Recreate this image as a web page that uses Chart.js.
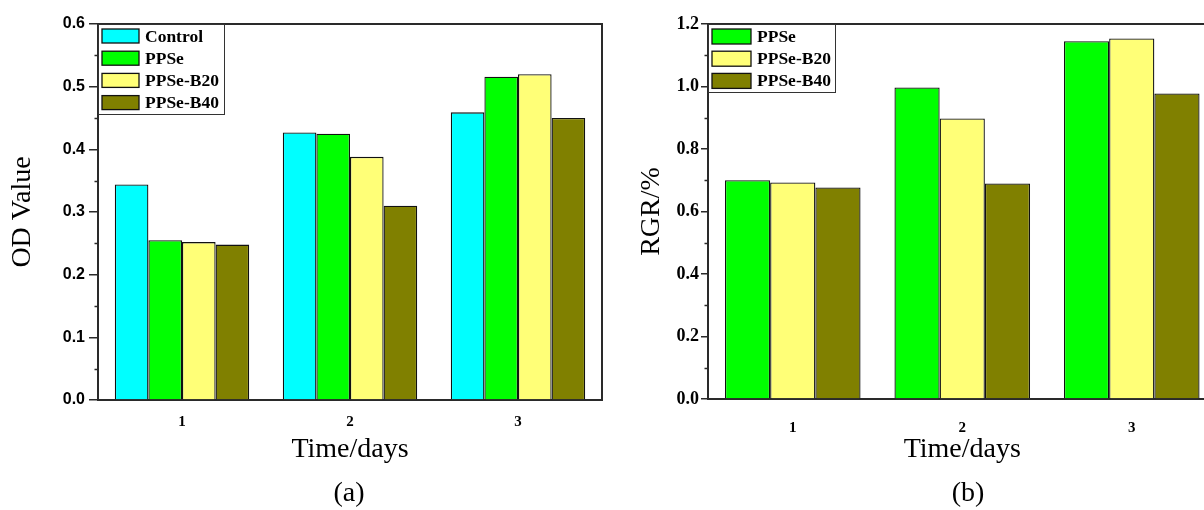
<!DOCTYPE html>
<html>
<head>
<meta charset="utf-8">
<script src="https://cdn.jsdelivr.net/npm/chart.js@4.4.0/dist/chart.umd.min.js"></script>
<style>
  html, body { margin: 0; padding: 0; background: #fff; width: 1204px; height: 510px; overflow: hidden; position: relative; }
  .panel { position: absolute; top: 0; height: 510px; }
  #panelA { left: 0; width: 605px; }
  #panelB { left: 605px; width: 615px; }
</style>
</head>
<body>
<div class="panel" id="panelA"><canvas id="chartA" width="605" height="510"></canvas></div>
<div class="panel" id="panelB"><canvas id="chartB" width="615" height="510"></canvas></div>
<script>
// Categories
const days = ['1', '2', '3'];

// (a) OD value per day
const odControl = [0.344, 0.427, 0.459];
const odPPSe    = [0.255, 0.425, 0.516];
const odB20     = [0.252, 0.388, 0.520];
const odB40     = [0.248, 0.310, 0.450];

// (b) relative growth rate per day
const rgrPPSe = [0.700, 0.997, 1.145];
const rgrB20  = [0.693, 0.898, 1.154];
const rgrB40  = [0.677, 0.690, 0.978];

// Series names
const nameControl = 'Control';
const namePPSe = 'PPSe';
const nameB20 = 'PPSe-B20';
const nameB40 = 'PPSe-B40';

// Minor tick values on the y axes
const odMinor  = [0.05, 0.15, 0.25, 0.35, 0.45, 0.55];
const rgrMinor = [0.1, 0.3, 0.5, 0.7, 0.9, 1.1];

const SERIF = "'Liberation Serif', 'Times New Roman', serif";
const SANS = "'Liberation Sans', Arial, sans-serif";
const AXIS = '#2a2a2a';
const COLORS = {
  control: '#00FFFF',
  ppse: '#00FF00',
  b20: '#FFFF77',
  b40: '#808000'
};

function series(label, data, color) {
  return {
    label: label,
    data: data,
    backgroundColor: color,
    borderColor: '#111',
    borderWidth: 1.3,
    borderSkipped: 'bottom',
    categoryPercentage: 0.8,
    barPercentage: 1.0
  };
}

// Frame (top/right), minor ticks, boxed legend and panel caption
const decorations = {
  id: 'decorations',
  afterDraw(chart, args, o) {
    const { ctx, chartArea: a } = chart;
    const y = chart.scales.y;
    ctx.save();
    // top and right frame lines
    ctx.strokeStyle = AXIS;
    ctx.lineWidth = 2;
    ctx.beginPath();
    ctx.moveTo(a.left, a.top);
    ctx.lineTo(a.right, a.top);
    ctx.lineTo(a.right, a.bottom + 1);
    ctx.stroke();
    // minor ticks
    ctx.lineWidth = 1.5;
    ctx.beginPath();
    o.minor.forEach(v => {
      const py = Math.round(y.getPixelForValue(v)) + 0.5;
      ctx.moveTo(a.left - o.minorLen, py);
      ctx.lineTo(a.left, py);
    });
    ctx.stroke();

    // legend box
    const L = o.legend;
    const bx = a.left + 0.5, by = a.top + 0.5;
    ctx.fillStyle = '#fff';
    ctx.fillRect(bx, by, L.w, L.h);
    ctx.strokeStyle = '#333';
    ctx.lineWidth = 1;
    ctx.strokeRect(bx, by, L.w, L.h);
    ctx.font = 'bold ' + L.fontSize + 'px ' + SERIF;
    ctx.textBaseline = 'middle';
    ctx.textAlign = 'left';
    chart.data.datasets.forEach((ds, i) => {
      const sy = a.top + L.sy + i * L.row;
      ctx.fillStyle = ds.backgroundColor;
      ctx.fillRect(a.left + L.sx, sy, L.sw, L.sh);
      ctx.strokeStyle = '#111';
      ctx.lineWidth = 1.3;
      ctx.strokeRect(a.left + L.sx, sy, L.sw, L.sh);
      ctx.fillStyle = '#000';
      ctx.fillText(ds.label, a.left + L.tx, sy + L.sh / 2 + 1);
    });

    // panel caption
    ctx.fillStyle = '#000';
    ctx.font = '28px ' + SERIF;
    ctx.textAlign = 'center';
    ctx.textBaseline = 'middle';
    ctx.fillText(o.caption, o.capX, o.capY);
    ctx.restore();
  }
};

function makeChart(canvas, datasets, cfg) {
  return new Chart(canvas, {
    type: 'bar',
    data: { labels: days, datasets: datasets },
    plugins: [decorations],
    options: {
      responsive: false,
      animation: false,
      events: [],
      layout: { padding: { left: 0, top: 24, right: cfg.padRight, bottom: 0 } },
      plugins: {
        legend: { display: false },
        tooltip: { enabled: false },
        decorations: {
          minor: cfg.minor,
          minorLen: 3.5,
          legend: cfg.legend,
          caption: cfg.caption,
          capX: cfg.capX,
          capY: 494
        }
      },
      scales: {
        x: {
          type: 'category',
          offset: true,
          grid: { display: false, drawTicks: false },
          border: { display: true, color: AXIS, width: 2 },
          ticks: {
            padding: cfg.xTickPad,
            color: '#000',
            maxRotation: 0,
            font: { family: SERIF, size: 15, weight: 'bold' }
          },
          title: {
            display: true,
            text: 'Time/days',
            color: '#000',
            font: { family: SERIF, size: 28 },
            padding: { top: 0, bottom: 44 }
          },
          afterFit(s) { s.height = cfg.xHeight; }
        },
        y: {
          min: 0,
          max: cfg.max,
          position: 'left',
          grid: { drawOnChartArea: false, drawTicks: true, tickLength: cfg.tickLen, color: AXIS, lineWidth: 1.5 },
          border: { display: true, color: AXIS, width: 2 },
          ticks: {
            stepSize: cfg.step,
            padding: cfg.yTickPad,
            color: '#000',
            font: cfg.yTickFont,
            callback: v => Number(v).toFixed(1)
          },
          title: {
            display: true,
            text: cfg.yTitle,
            color: '#000',
            font: { family: SERIF, size: 28 },
            padding: { top: cfg.yTitlePad, bottom: 0 }
          },
          afterFit(s) { s.width = cfg.yWidth; }
        }
      }
    }
  });
}

makeChart(document.getElementById('chartA'), [
  series(nameControl, odControl, COLORS.control),
  series(namePPSe, odPPSe, COLORS.ppse),
  series(nameB20, odB20, COLORS.b20),
  series(nameB40, odB40, COLORS.b40)
], {
  max: 0.6, step: 0.1, minor: odMinor,
  yTitle: 'OD Value', yTitlePad: 6,
  yWidth: 98, padRight: 3, xHeight: 110,
  tickLen: 9, yTickPad: 4, xTickPad: 13,
  yTickFont: { family: SANS, size: 16, weight: 'bold' },
  legend: { w: 126, h: 90, sx: 4, sy: 5, sw: 37, sh: 14, row: 22.2, tx: 47, fontSize: 17.5 },
  caption: '(a)', capX: 349
});

makeChart(document.getElementById('chartB'), [
  series(namePPSe, rgrPPSe, COLORS.ppse),
  series(nameB20, rgrB20, COLORS.b20),
  series(nameB40, rgrB40, COLORS.b40)
], {
  max: 1.2, step: 0.2, minor: rgrMinor,
  yTitle: 'RGR/%', yTitlePad: 30,
  yWidth: 103, padRight: 3.5, xHeight: 111,
  tickLen: 7, yTickPad: 2, xTickPad: 20,
  yTickFont: { family: SERIF, size: 18, weight: 'bold' },
  legend: { w: 127, h: 68, sx: 4, sy: 5, sw: 39, sh: 15, row: 22.2, tx: 49, fontSize: 17.5 },
  caption: '(b)', capX: 363
});
</script>
</body>
</html>
